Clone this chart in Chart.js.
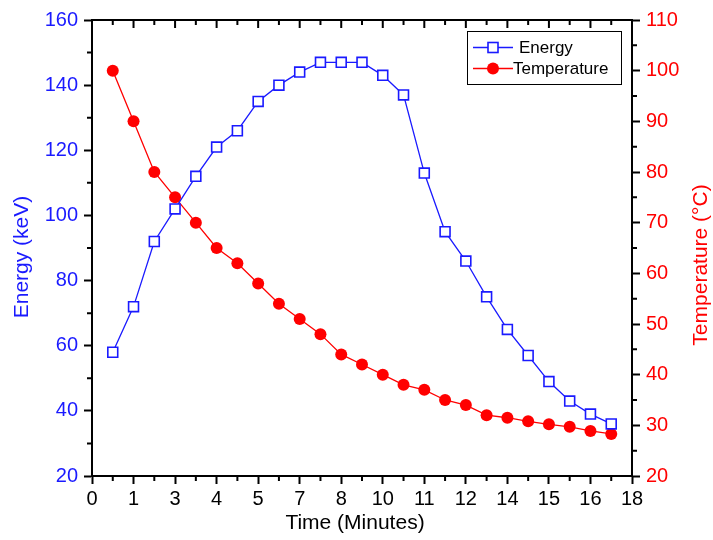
<!DOCTYPE html>
<html>
<head>
<meta charset="utf-8">
<script src="https://cdn.jsdelivr.net/npm/chart.js@4/dist/chart.umd.min.js"></script>
<style>
  html, body { margin: 0; padding: 0; background: #fff; }
  #wrap { width: 713px; height: 540px; }
</style>
</head>
<body>
<div id="wrap"><canvas id="chart" width="713" height="540"></canvas></div>
<script>
// positions along the (evenly spaced) time axis
const timePos = [0.5, 1, 1.5, 2, 2.5, 3, 3.5, 4, 4.5, 5, 5.5, 6, 6.5,
                 7, 7.5, 8, 8.5, 9, 9.5, 10, 10.5, 11, 11.5, 12, 12.5];
// the time axis labels as printed (not evenly spaced numbers)
const timeLabels = ['0', '1', '3', '4', '5', '7', '8', '10', '11', '12', '14', '15', '16', '18'];

const energy = [58, 72, 92, 102, 112, 121, 126, 135, 140, 144, 147, 147, 147,
                143, 137, 113, 95, 86, 75, 65, 57, 49, 43, 39, 36];
const temperature = [100, 90, 80, 75, 70, 65, 62, 58, 54, 51, 48, 44, 42,
                     40, 38, 37, 35, 34, 32, 31.5, 30.8, 30.2, 29.7, 28.9, 28.3];

const BLUE = '#1a1aff';
const RED = '#ff0000';
const FONT = 'Liberation Sans, Arial, sans-serif';

function pts(ys) {
  return ys.map((y, i) => ({ x: timePos[i], y: y }));
}

function rotatedText(ctx, text, x, y, color) {
  ctx.save();
  ctx.translate(x, y);
  ctx.rotate(-Math.PI / 2);
  ctx.fillStyle = color;
  ctx.font = '21px ' + FONT;
  ctx.textAlign = 'center';
  ctx.textBaseline = 'middle';
  ctx.fillText(text, 0, 0);
  ctx.restore();
}

// minor ticks, top axis ticks, axis titles and the boxed legend
const extras = {
  id: 'extras',
  afterDraw(chart) {
    const { ctx, chartArea: a, scales } = chart;
    ctx.save();
    ctx.strokeStyle = '#000';
    ctx.lineWidth = 2;

    ctx.beginPath();
    ctx.moveTo(a.left - 1, a.top);
    ctx.lineTo(a.right + 1, a.top);
    ctx.stroke();

    const mids = s => {
      const out = [];
      for (let i = 0; i < s.ticks.length - 1; i++) {
        out.push((s.ticks[i].value + s.ticks[i + 1].value) / 2);
      }
      return out;
    };

    const x = scales.x;
    ctx.beginPath();
    x.ticks.forEach(t => {
      const px = x.getPixelForValue(t.value);
      ctx.moveTo(px, a.top); ctx.lineTo(px, a.top + 8);
    });
    mids(x).forEach(v => {
      const px = x.getPixelForValue(v);
      ctx.moveTo(px, a.bottom); ctx.lineTo(px, a.bottom + 5);
      ctx.moveTo(px, a.top); ctx.lineTo(px, a.top + 5);
    });
    mids(scales.y).forEach(v => {
      const py = scales.y.getPixelForValue(v);
      ctx.moveTo(a.left, py); ctx.lineTo(a.left - 5, py);
    });
    mids(scales.y1).forEach(v => {
      const py = scales.y1.getPixelForValue(v);
      ctx.moveTo(a.right, py); ctx.lineTo(a.right + 5, py);
    });
    ctx.stroke();

    // axis titles
    rotatedText(ctx, 'Energy (keV)', 22, 257, BLUE);
    rotatedText(ctx, 'Temperature (\u00B0C)', 701, 265, RED);
    ctx.fillStyle = '#000';
    ctx.font = '21px ' + FONT;
    ctx.textAlign = 'center';
    ctx.textBaseline = 'middle';
    ctx.fillText('Time (Minutes)', 355, 523);

    // legend
    ctx.lineWidth = 1;
    ctx.strokeStyle = '#000';
    ctx.strokeRect(467.5, 31.5, 154, 53);
    ctx.font = '17px ' + FONT;
    ctx.textBaseline = 'middle';
    ctx.textAlign = 'left';

    ctx.lineWidth = 1.3;
    ctx.strokeStyle = BLUE;
    ctx.beginPath(); ctx.moveTo(473, 47.5); ctx.lineTo(513, 47.5); ctx.stroke();
    ctx.fillStyle = '#fff';
    ctx.lineWidth = 1.6;
    ctx.fillRect(488, 42.5, 10, 10);
    ctx.strokeRect(488, 42.5, 10, 10);
    ctx.fillStyle = '#000';
    ctx.fillText('Energy', 519, 48);

    ctx.lineWidth = 1.3;
    ctx.strokeStyle = RED;
    ctx.beginPath(); ctx.moveTo(473, 68.5); ctx.lineTo(513, 68.5); ctx.stroke();
    ctx.fillStyle = RED;
    ctx.beginPath(); ctx.arc(493, 68.5, 6, 0, Math.PI * 2); ctx.fill();
    ctx.fillStyle = '#000';
    ctx.fillText('Temperature', 513, 69);

    ctx.restore();
  }
};

const axisGrid = {
  display: true,
  drawOnChartArea: false,
  drawTicks: true,
  tickLength: 8,
  tickWidth: 2,
  tickColor: '#000'
};
const axisBorder = { display: true, color: '#000', width: 2 };

new Chart(document.getElementById('chart'), {
  type: 'line',
  data: {
    datasets: [{
      label: 'Energy',
      data: pts(energy),
      yAxisID: 'y',
      borderColor: BLUE,
      borderWidth: 1.3,
      backgroundColor: '#fff',
      pointStyle: 'rect',
      pointRadius: 7,
      pointBorderWidth: 1.6,
      pointBorderColor: BLUE,
      pointBackgroundColor: '#fff',
      tension: 0
    }, {
      label: 'Temperature',
      data: pts(temperature),
      yAxisID: 'y1',
      borderColor: RED,
      borderWidth: 1.3,
      pointStyle: 'circle',
      pointRadius: 6,
      pointBorderWidth: 0,
      pointBackgroundColor: RED,
      tension: 0
    }]
  },
  options: {
    responsive: false,
    animation: false,
    layout: { padding: { top: 20, left: 0, right: 0, bottom: 0 } },
    plugins: {
      legend: { display: false },
      tooltip: { enabled: false }
    },
    scales: {
      x: {
        type: 'linear',
        min: 0,
        max: 13,
        grid: axisGrid,
        border: axisBorder,
        afterFit: s => { s.height = 64; },
        ticks: {
          stepSize: 1,
          autoSkip: false,
          maxRotation: 0,
          padding: 3,
          color: '#000',
          font: { family: FONT, size: 20 },
          callback: (v, i) => timeLabels[i]
        }
      },
      y: {
        position: 'left',
        min: 20,
        max: 160,
        grid: axisGrid,
        border: axisBorder,
        afterFit: s => { s.width = 92; },
        ticks: {
          stepSize: 20,
          padding: 6,
          color: BLUE,
          font: { family: FONT, size: 20 }
        }
      },
      y1: {
        position: 'right',
        min: 20,
        max: 110,
        grid: axisGrid,
        border: axisBorder,
        afterFit: s => { s.width = 81; },
        ticks: {
          stepSize: 10,
          padding: 6,
          color: RED,
          font: { family: FONT, size: 20 }
        }
      }
    }
  },
  plugins: [extras]
});
</script>
</body>
</html>
